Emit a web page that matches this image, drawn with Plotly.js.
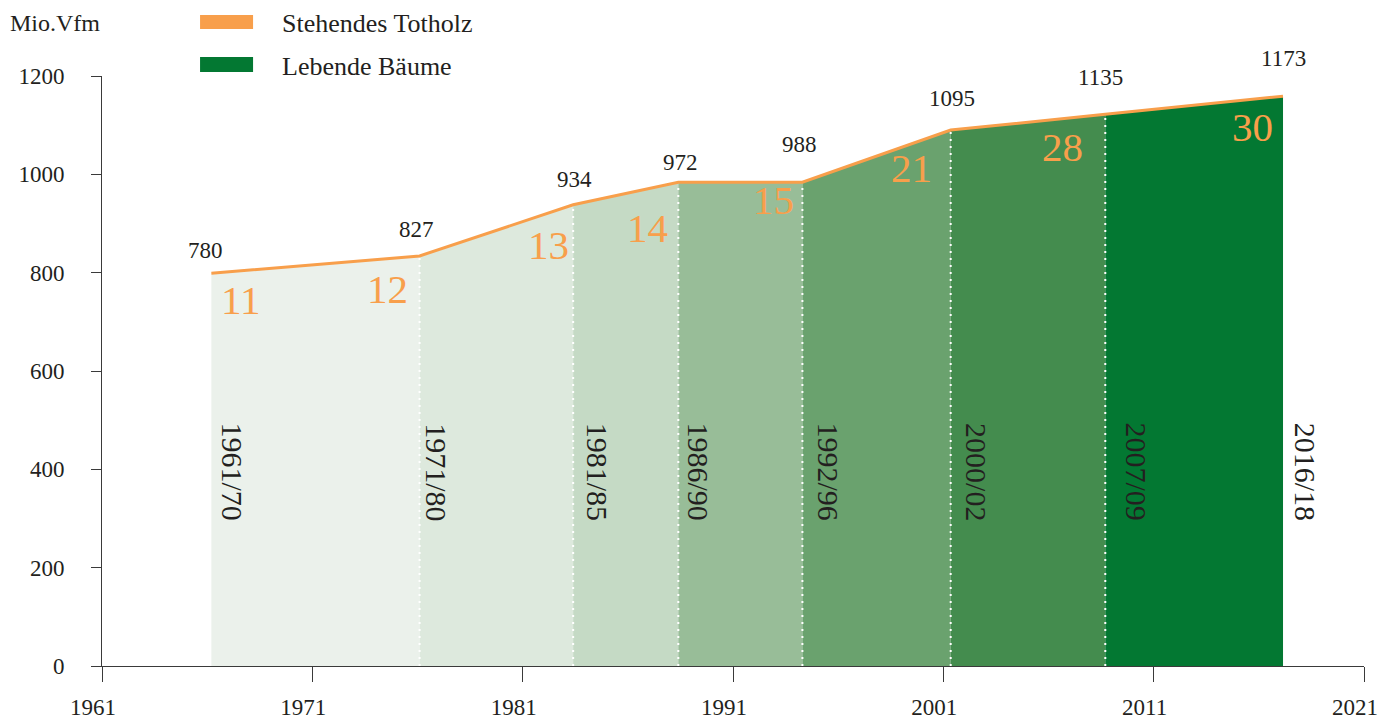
<!DOCTYPE html>
<html>
<head>
<meta charset="utf-8">
<script src="https://cdn.plot.ly/plotly-3.0.1.min.js"></script>
<style>
  html, body { margin: 0; padding: 0; background: #ffffff; }
  #chart { width: 1381px; height: 720px; }
</style>
</head>
<body>
<div id="chart"></div>
<script>
// ---- data ----
const inventoryYears = [1966.2, 1976.1, 1983.4, 1988.4, 1994.3, 2001.35, 2008.7, 2017.15];
const totalStock     = [799, 834, 938, 984, 984, 1090, 1122, 1159];   // height of the orange line (Mio. Vfm)
const livingLabels   = [780, 827, 934, 972, 988, 1095, 1135, 1173];  // Lebende Bäume
const deadwoodLabels = [11, 12, 13, 14, 15, 21, 28, 30];              // Stehendes Totholz
const periodLabels   = ['1961/70', '1971/80', '1981/85', '1986/90', '1992/96', '2000/02', '2007/09', '2016/18'];
const xTickVals      = [1961, 1971, 1981, 1991, 2001, 2011, 2021];
const yTickVals      = [0, 200, 400, 600, 800, 1000, 1200];
const periodLabelY   = 395;

// ---- styles ----
const FONT = 'Liberation Serif, Times New Roman, serif';
const ORANGE = '#f89f4b';
const GREEN = '#037832';
const TEXT = '#231f20';
const segmentColors = ['#ebf1eb', '#dde9dd', '#c5dac5', '#98bd98', '#6aa26e', '#448c4e', '#037832'];
// pixel offsets of labels relative to the line points
const livingShift   = [[-6, 23], [-3, 26], [1, 25], [2, 20], [-3, 38], [1, 32], [-5, 37], [0, 38]];
const deadShift     = [[29, -27], [-32, -33], [-25, -40], [-31, -46], [-29, -18], [-39, -38], [-43, -33], [-31, -31]];
const periodShift   = [21, 17, 24, 20, 26, 26, 31, 22];

const traces = [];
for (let i = 0; i < inventoryYears.length - 1; i++) {
  traces.push({
    type: 'scatter',
    x: [inventoryYears[i], inventoryYears[i + 1]],
    y: [totalStock[i], totalStock[i + 1]],
    mode: 'none',
    fill: 'tozeroy',
    fillcolor: segmentColors[i],
    hoverinfo: 'skip',
    showlegend: false
  });
}
traces.push({
  type: 'scatter',
  x: inventoryYears,
  y: totalStock,
  mode: 'lines',
  line: { color: ORANGE, width: 3 },
  hoverinfo: 'x+y',
  showlegend: false
});

const shapes = [];
for (let i = 1; i < inventoryYears.length - 1; i++) {
  shapes.push({
    type: 'line', xref: 'x', yref: 'y',
    x0: inventoryYears[i], x1: inventoryYears[i],
    y0: 0, y1: totalStock[i] - 4,
    line: { color: '#ffffff', width: 2, dash: '2px,5px' },
    layer: 'above'
  });
}
// legend swatches
shapes.push({ type: 'rect', xref: 'paper', yref: 'paper', x0: 0.0777, x1: 0.1197, y0: 1.0797, y1: 1.1034, fillcolor: ORANGE, line: { width: 0 } });
shapes.push({ type: 'rect', xref: 'paper', yref: 'paper', x0: 0.0777, x1: 0.1197, y0: 1.0068, y1: 1.0322, fillcolor: GREEN, line: { width: 0 } });

const annotations = [];
for (let i = 0; i < inventoryYears.length; i++) {
  annotations.push({
    x: inventoryYears[i], y: totalStock[i], xref: 'x', yref: 'y',
    text: String(livingLabels[i]), showarrow: false,
    xanchor: 'center', yanchor: 'middle',
    xshift: livingShift[i][0], yshift: livingShift[i][1],
    font: { family: FONT, size: 23, color: TEXT }
  });
  annotations.push({
    x: inventoryYears[i], y: totalStock[i], xref: 'x', yref: 'y',
    text: String(deadwoodLabels[i]), showarrow: false,
    xanchor: 'center', yanchor: 'middle',
    xshift: deadShift[i][0], yshift: deadShift[i][1],
    font: { family: FONT, size: 41, color: ORANGE }
  });
  annotations.push({
    x: inventoryYears[i], y: periodLabelY, xref: 'x', yref: 'y',
    text: periodLabels[i], showarrow: false, textangle: 90,
    xanchor: 'center', yanchor: 'middle',
    xshift: periodShift[i],
    font: { family: FONT, size: 30, color: TEXT }
  });
}
annotations.push({ x: -0.0745, y: 1.0898, xref: 'paper', yref: 'paper', xanchor: 'left', yanchor: 'middle', showarrow: false,
  text: 'Mio.Vfm', font: { family: FONT, size: 24, color: TEXT } });
annotations.push({ x: 0.1410, y: 1.0898, xref: 'paper', yref: 'paper', xanchor: 'left', yanchor: 'middle', showarrow: false,
  text: 'Stehendes Totholz', font: { family: FONT, size: 26, color: TEXT } });
annotations.push({ x: 0.1410, y: 1.0153, xref: 'paper', yref: 'paper', xanchor: 'left', yanchor: 'middle', showarrow: false,
  text: 'Lebende Bäume', font: { family: FONT, size: 26, color: TEXT } });

const layout = {
  width: 1381, height: 720,
  margin: { l: 102, r: 17, t: 76, b: 54, pad: 0 },
  paper_bgcolor: '#ffffff', plot_bgcolor: '#ffffff',
  showlegend: false,
  font: { family: FONT, color: TEXT },
  xaxis: {
    range: [1961, 2021], tickvals: xTickVals, ticktext: xTickVals.map(String),
    showgrid: false, zeroline: false, showline: true, linecolor: '#3a3a3a', linewidth: 1,
    ticks: 'outside', ticklen: 15, tickcolor: '#3a3a3a', tickwidth: 1,
    ticklabelstandoff: 5, ticklabelshift: -9, ticklabeloverflow: 'allow',
    tickfont: { family: FONT, size: 23, color: TEXT }
  },
  yaxis: {
    range: [0, 1200], tickvals: yTickVals, ticktext: yTickVals.map(String),
    showgrid: false, zeroline: false, showline: true, linecolor: '#3a3a3a', linewidth: 1,
    ticks: 'outside', ticklen: 10, tickcolor: '#3a3a3a', tickwidth: 1,
    ticklabelstandoff: 22,
    tickfont: { family: FONT, size: 23, color: TEXT }
  },
  shapes: shapes,
  annotations: annotations
};

Plotly.newPlot('chart', traces, layout, { displayModeBar: false, staticPlot: true });
</script>
</body>
</html>
